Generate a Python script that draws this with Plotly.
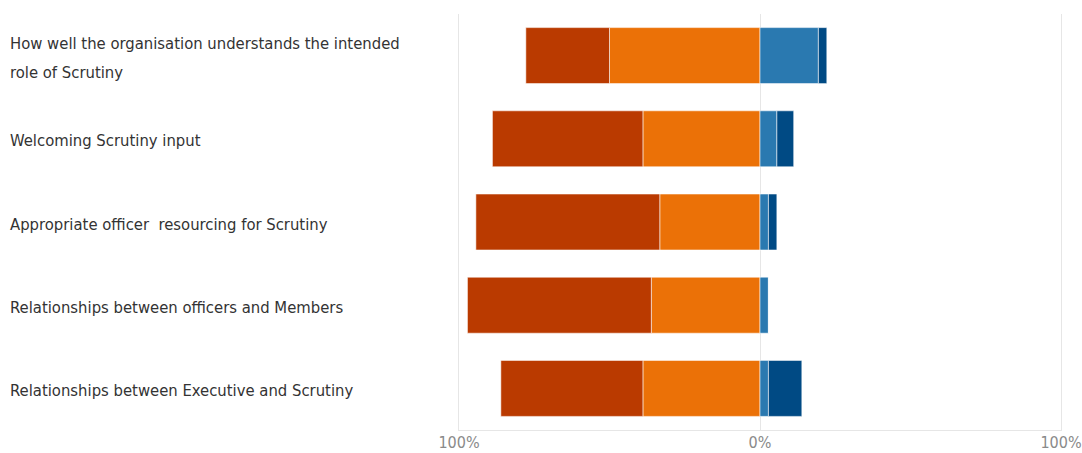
import plotly.graph_objects as go

categories = [
    "How well the organisation understands the intended<br>role of Scrutiny",
    "Welcoming Scrutiny input",
    "Appropriate officer  resourcing for Scrutiny",
    "Relationships between officers and Members",
    "Relationships between Executive and Scrutiny",
]
very_negative = [27.8, 50.0, 61.1, 61.1, 47.2]
negative = [50.0, 38.9, 33.3, 36.1, 38.9]
positive = [19.4, 5.6, 2.8, 2.8, 2.8]
very_positive = [2.8, 5.6, 2.8, 0.0, 11.1]

tick_vals = [-100, 0, 100]
tick_text = ["100%", "0%", "100%"]

FONT = "DejaVu Sans Condensed, Liberation Sans Narrow, sans-serif"
edge = dict(color="rgba(255,255,255,0.55)", width=1)

fig = go.Figure()
fig.add_trace(go.Bar(y=categories, x=[-v for v in negative], orientation="h",
                     marker=dict(color="#EB7107", line=edge), name="Negative"))
fig.add_trace(go.Bar(y=categories, x=[-v for v in very_negative], orientation="h",
                     marker=dict(color="#BA3A00", line=edge), name="Very negative"))
fig.add_trace(go.Bar(y=categories, x=positive, orientation="h",
                     marker=dict(color="#2A79B0", line=edge), name="Positive"))
fig.add_trace(go.Bar(y=categories, x=very_positive, orientation="h",
                     marker=dict(color="#004A84", line=edge), name="Very positive"))

annotations = []
line_h = 29
for cat in categories:
    lines = cat.split("<br>")
    n = len(lines)
    for i, ln in enumerate(lines):
        annotations.append(dict(
            x=-0.7496, xref="paper", y=cat, yref="y",
            text=ln, showarrow=False, xanchor="left", yanchor="middle",
            yshift=((n - 1) / 2 - i) * line_h - 2,
            font=dict(family=FONT, size=16.5, color="#333333"),
        ))

fig.update_layout(
    barmode="relative",
    bargap=0.327,
    width=1082, height=453,
    margin=dict(l=459, r=21, t=14, b=23, autoexpand=False),
    paper_bgcolor="white", plot_bgcolor="white",
    showlegend=False,
    annotations=annotations,
    xaxis=dict(range=[-100, 100], tickvals=tick_vals, ticktext=tick_text,
               showgrid=True, gridcolor="#E6E6E6", gridwidth=1,
               zeroline=False, showline=True, linecolor="#E6E6E6", linewidth=1,
               ticks="", tickfont=dict(family=FONT, size=16, color="#8A8A8A"),
               ticklabeloverflow="allow", ticklabelstandoff=-2,
               automargin=False, fixedrange=True),
    yaxis=dict(autorange="reversed", showticklabels=False, showgrid=False,
               zeroline=False, showline=True, mirror=True, linecolor="#E6E6E6",
               linewidth=1, ticks="", automargin=False, fixedrange=True),
)

fig.write_html("out.html", config={"displayModeBar": False},
               post_script="document.body.style.margin='0';document.body.style.overflow='hidden';")
